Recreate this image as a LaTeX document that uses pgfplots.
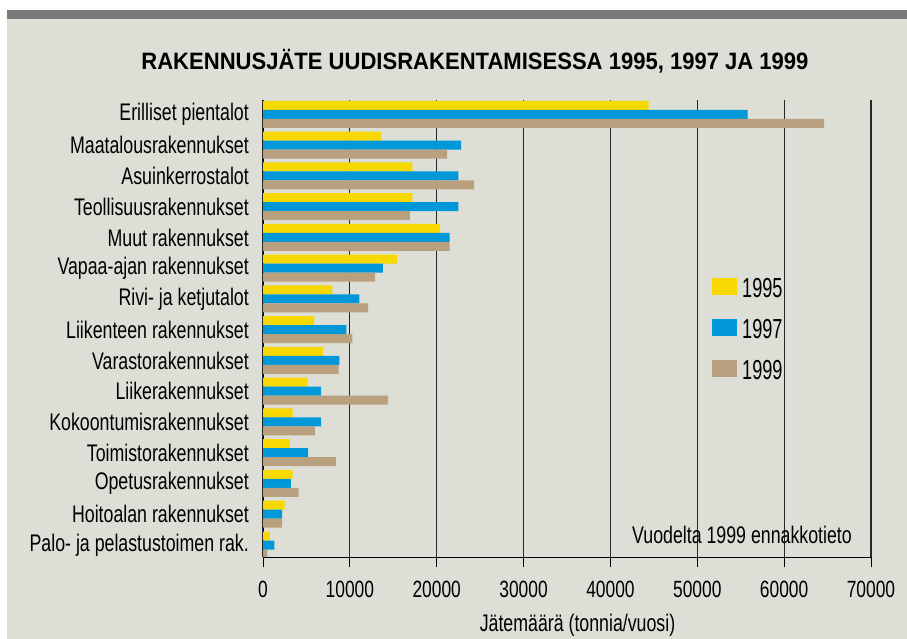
\documentclass[border=0pt]{standalone}
\usepackage{pgfplots}
\pgfplotsset{compat=1.18}
\usepackage{pgfplotstable}
\usepackage{fontspec}
\setmainfont{Liberation Sans}[FakeStretch=0.74]
\newfontfamily\titlefont{Liberation Sans}[FakeStretch=0.93]
\newfontfamily\legfont{Liberation Sans}[FakeStretch=0.66]
\definecolor{cyel}{RGB}{247,216,0}
\definecolor{cblue}{RGB}{0,152,216}
\definecolor{ctan}{RGB}{185,161,127}
\definecolor{panel}{RGB}{221,223,214}
\definecolor{band}{RGB}{122,122,122}

\pgfplotstableread{
k a b c
14 44400 55800 64600
13 13600 22800 21200
12 17200 22500 24300
11 17200 22500 16900
10 20400 21500 21500
9 15400 13800 12900
8 8000 11100 12100
7 5900 9600 10300
6 6900 8800 8700
5 5100 6700 14400
4 3400 6700 6000
3 3100 5200 8400
2 3400 3200 4100
1 2500 2200 2200
0 800 1300 500
}\datatable

\begin{document}
\begin{tikzpicture}[x=1pt,y=1pt]
\fill[white] (0,0) rectangle (907,639);
\fill[panel] (7,0) rectangle (907,619.7);
\fill[band] (7,619.7) rectangle (907,629);
\node[anchor=base, font=\titlefont\bfseries\fontsize{23.7}{24}\selectfont, inner sep=0pt] at (475,569) {RAKENNUSJÄTE UUDISRAKENTAMISESSA 1995, 1997 JA 1999};
\begin{axis}[
  at={(263pt,82pt)}, anchor=south west,
  scale only axis, width=608pt, height=457pt,
  xmin=0, xmax=70000, ymin=-0.39, ymax=14.47,
  axis x line=bottom, axis y line=left,
  axis line style={-, black, line width=0.9pt},
  xtick={0,10000,20000,30000,40000,50000,60000,70000},
  scaled x ticks=false,
  /pgf/number format/assume math mode=true,
  /pgf/number format/1000 sep={},
  xticklabel style={font=\fontsize{23.5}{24}\selectfont, yshift=-11pt},
  tick align=outside, major tick length=10pt,
  x tick style={black, line width=1pt},
  y tick style={draw=none},
  ytick={0,1,2,3,4,5,6,7,8,9,10,11,12,13,14},
  yticklabels={Palo- ja pelastustoimen rak., Hoitoalan rakennukset, Opetusrakennukset, Toimistorakennukset, Kokoontumisrakennukset, Liikerakennukset, Varastorakennukset, Liikenteen rakennukset, Rivi- ja ketjutalot, Vapaa-ajan rakennukset, Muut rakennukset, Teollisuusrakennukset, Asuinkerrostalot, Maatalousrakennukset, Erilliset pientalot},
  yticklabel style={font=\fontsize{24}{24}\selectfont, inner sep=0pt, xshift=-4pt},
  xmajorgrids, major grid style={black!85, line width=1.1pt},
  legend image code/.code={\fill[#1] (0pt,-6.5pt) rectangle (25pt,10.5pt);},
  legend style={at={(0.7385,0.6105)}, anchor=north west, draw=none, fill=none,
    font=\legfont\fontsize{27.5}{28}\selectfont, inner sep=0pt,
    nodes={inner sep=0pt}, row sep=20pt, column sep=5pt},
  legend cell align=left,
]
\addplot[xbar, bar width=9pt, bar shift=9pt, fill=cyel, draw=none] table[x=a, y=k]{\datatable};
\addplot[xbar, bar width=9pt, bar shift=0pt, fill=cblue, draw=none] table[x=b, y=k]{\datatable};
\addplot[xbar, bar width=9pt, bar shift=-9pt, fill=ctan, draw=none] table[x=c, y=k]{\datatable};
\legend{1995,1997,1999}
\end{axis}
\node[anchor=base west, font=\fontsize{24}{24}\selectfont, inner sep=0pt] at (632,95.7) {Vuodelta 1999 ennakkotieto};
\node[anchor=base, font=\fontsize{24}{24}\selectfont, inner sep=0pt] at (577.5,7.5) {Jätemäärä (tonnia/vuosi)};
\end{tikzpicture}
\end{document}
